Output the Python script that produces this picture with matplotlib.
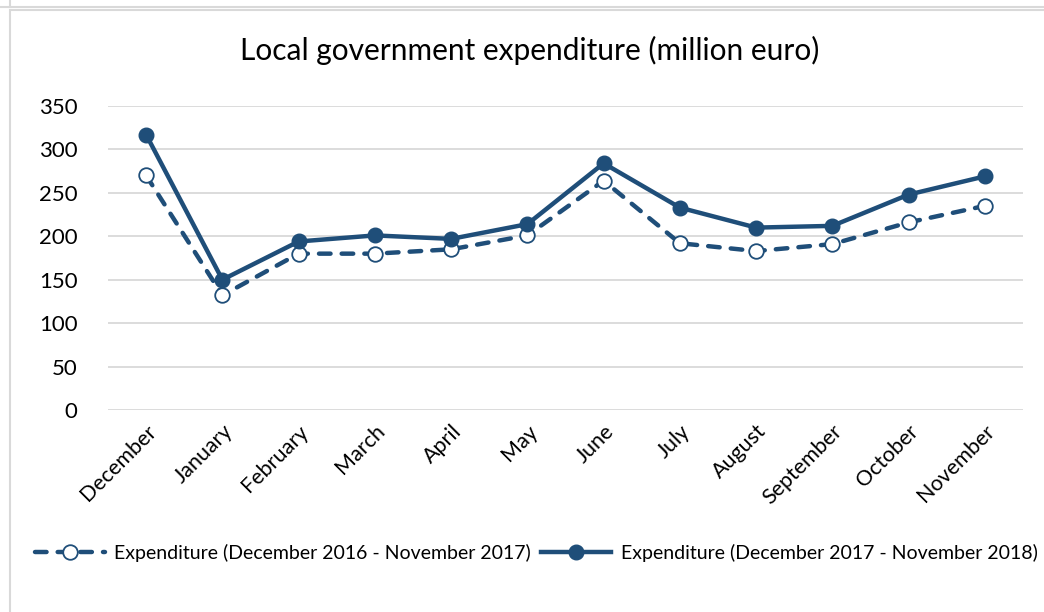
import matplotlib
matplotlib.use("Agg")
import matplotlib.pyplot as plt
from matplotlib.patches import Rectangle
from matplotlib.lines import Line2D

months = ["December", "January", "February", "March", "April", "May", "June",
          "July", "August", "September", "October", "November"]
exp_2016_2017 = [270, 132, 180, 180, 185, 201, 264, 192, 183, 191, 216, 235]
exp_2017_2018 = [317, 150, 194, 201, 197, 214, 284, 233, 210, 212, 248, 269]
yticks = [0, 50, 100, 150, 200, 250, 300, 350]
label_1 = "Expenditure (December 2016 - November 2017)"
label_2 = "Expenditure (December 2017 - November 2018)"

color = "#1F4E79"
font = ["Lato", "DejaVu Sans"]
plt.rcParams["font.family"] = font

fig = plt.figure(figsize=(10.44, 6.12), dpi=100)
fig.patch.set_facecolor("white")

# frames (Excel chart border)
fig.add_artist(Line2D([0, 1], [1 - 6.5 / 612] * 2, color="#d9d9d9", lw=1.5, transform=fig.transFigure))
fig.add_artist(Line2D([9.5 / 1044] * 2, [1, 1 - 6.5 / 612], color="#d9d9d9", lw=1.5, transform=fig.transFigure))
fig.add_artist(Rectangle((9.5 / 1044, -0.1), 1.2, 1.1 - 10 / 612, transform=fig.transFigure,
                         fill=False, ec="#d9d9d9", lw=1.5))

ax = fig.add_axes([108 / 1044, 1 - 410 / 612, (1023 - 108) / 1044, (410 - 106) / 612])
x = list(range(len(months)))

ax.plot(x, exp_2016_2017, color=color, lw=3.2, linestyle=(0, (2.6, 2.5)),
        dash_capstyle="round", marker="o", markersize=10.5, markerfacecolor="white",
        markeredgecolor=color, markeredgewidth=1.3, label=label_1, zorder=3)
ax.plot(x, exp_2017_2018, color=color, lw=3.2, marker="o", markersize=10.5,
        markerfacecolor=color, markeredgecolor=color, label=label_2, zorder=4)

ax.set_xlim(-0.5, len(months) - 0.5)
ax.set_ylim(0, 350)
ax.set_yticks(yticks)
ax.set_yticklabels([str(v) for v in yticks], fontsize=16)
ax.set_xticks(x)
ax.set_xticklabels(months, rotation=45, ha="right", rotation_mode="anchor", fontsize=15.5)
ax.tick_params(axis="both", length=0)
ax.tick_params(axis="y", pad=22)
ax.tick_params(axis="x", pad=8)
ax.grid(axis="y", color="#d9d9d9", lw=1.3)
ax.set_axisbelow(True)
for s in ax.spines.values():
    s.set_visible(False)

fig.text(530 / 1044, 1 - 50 / 612, "Local government expenditure (million euro)",
         ha="center", va="center", fontsize=21.5, color="black")

ax.legend(loc="center", bbox_to_anchor=(536 / 1044, 1 - 553 / 612), bbox_transform=fig.transFigure,
          ncol=2, frameon=False, fontsize=14, handlelength=3.6, columnspacing=0.5,
          handletextpad=0.5)

fig.savefig("out.png", dpi=100, facecolor="white")
